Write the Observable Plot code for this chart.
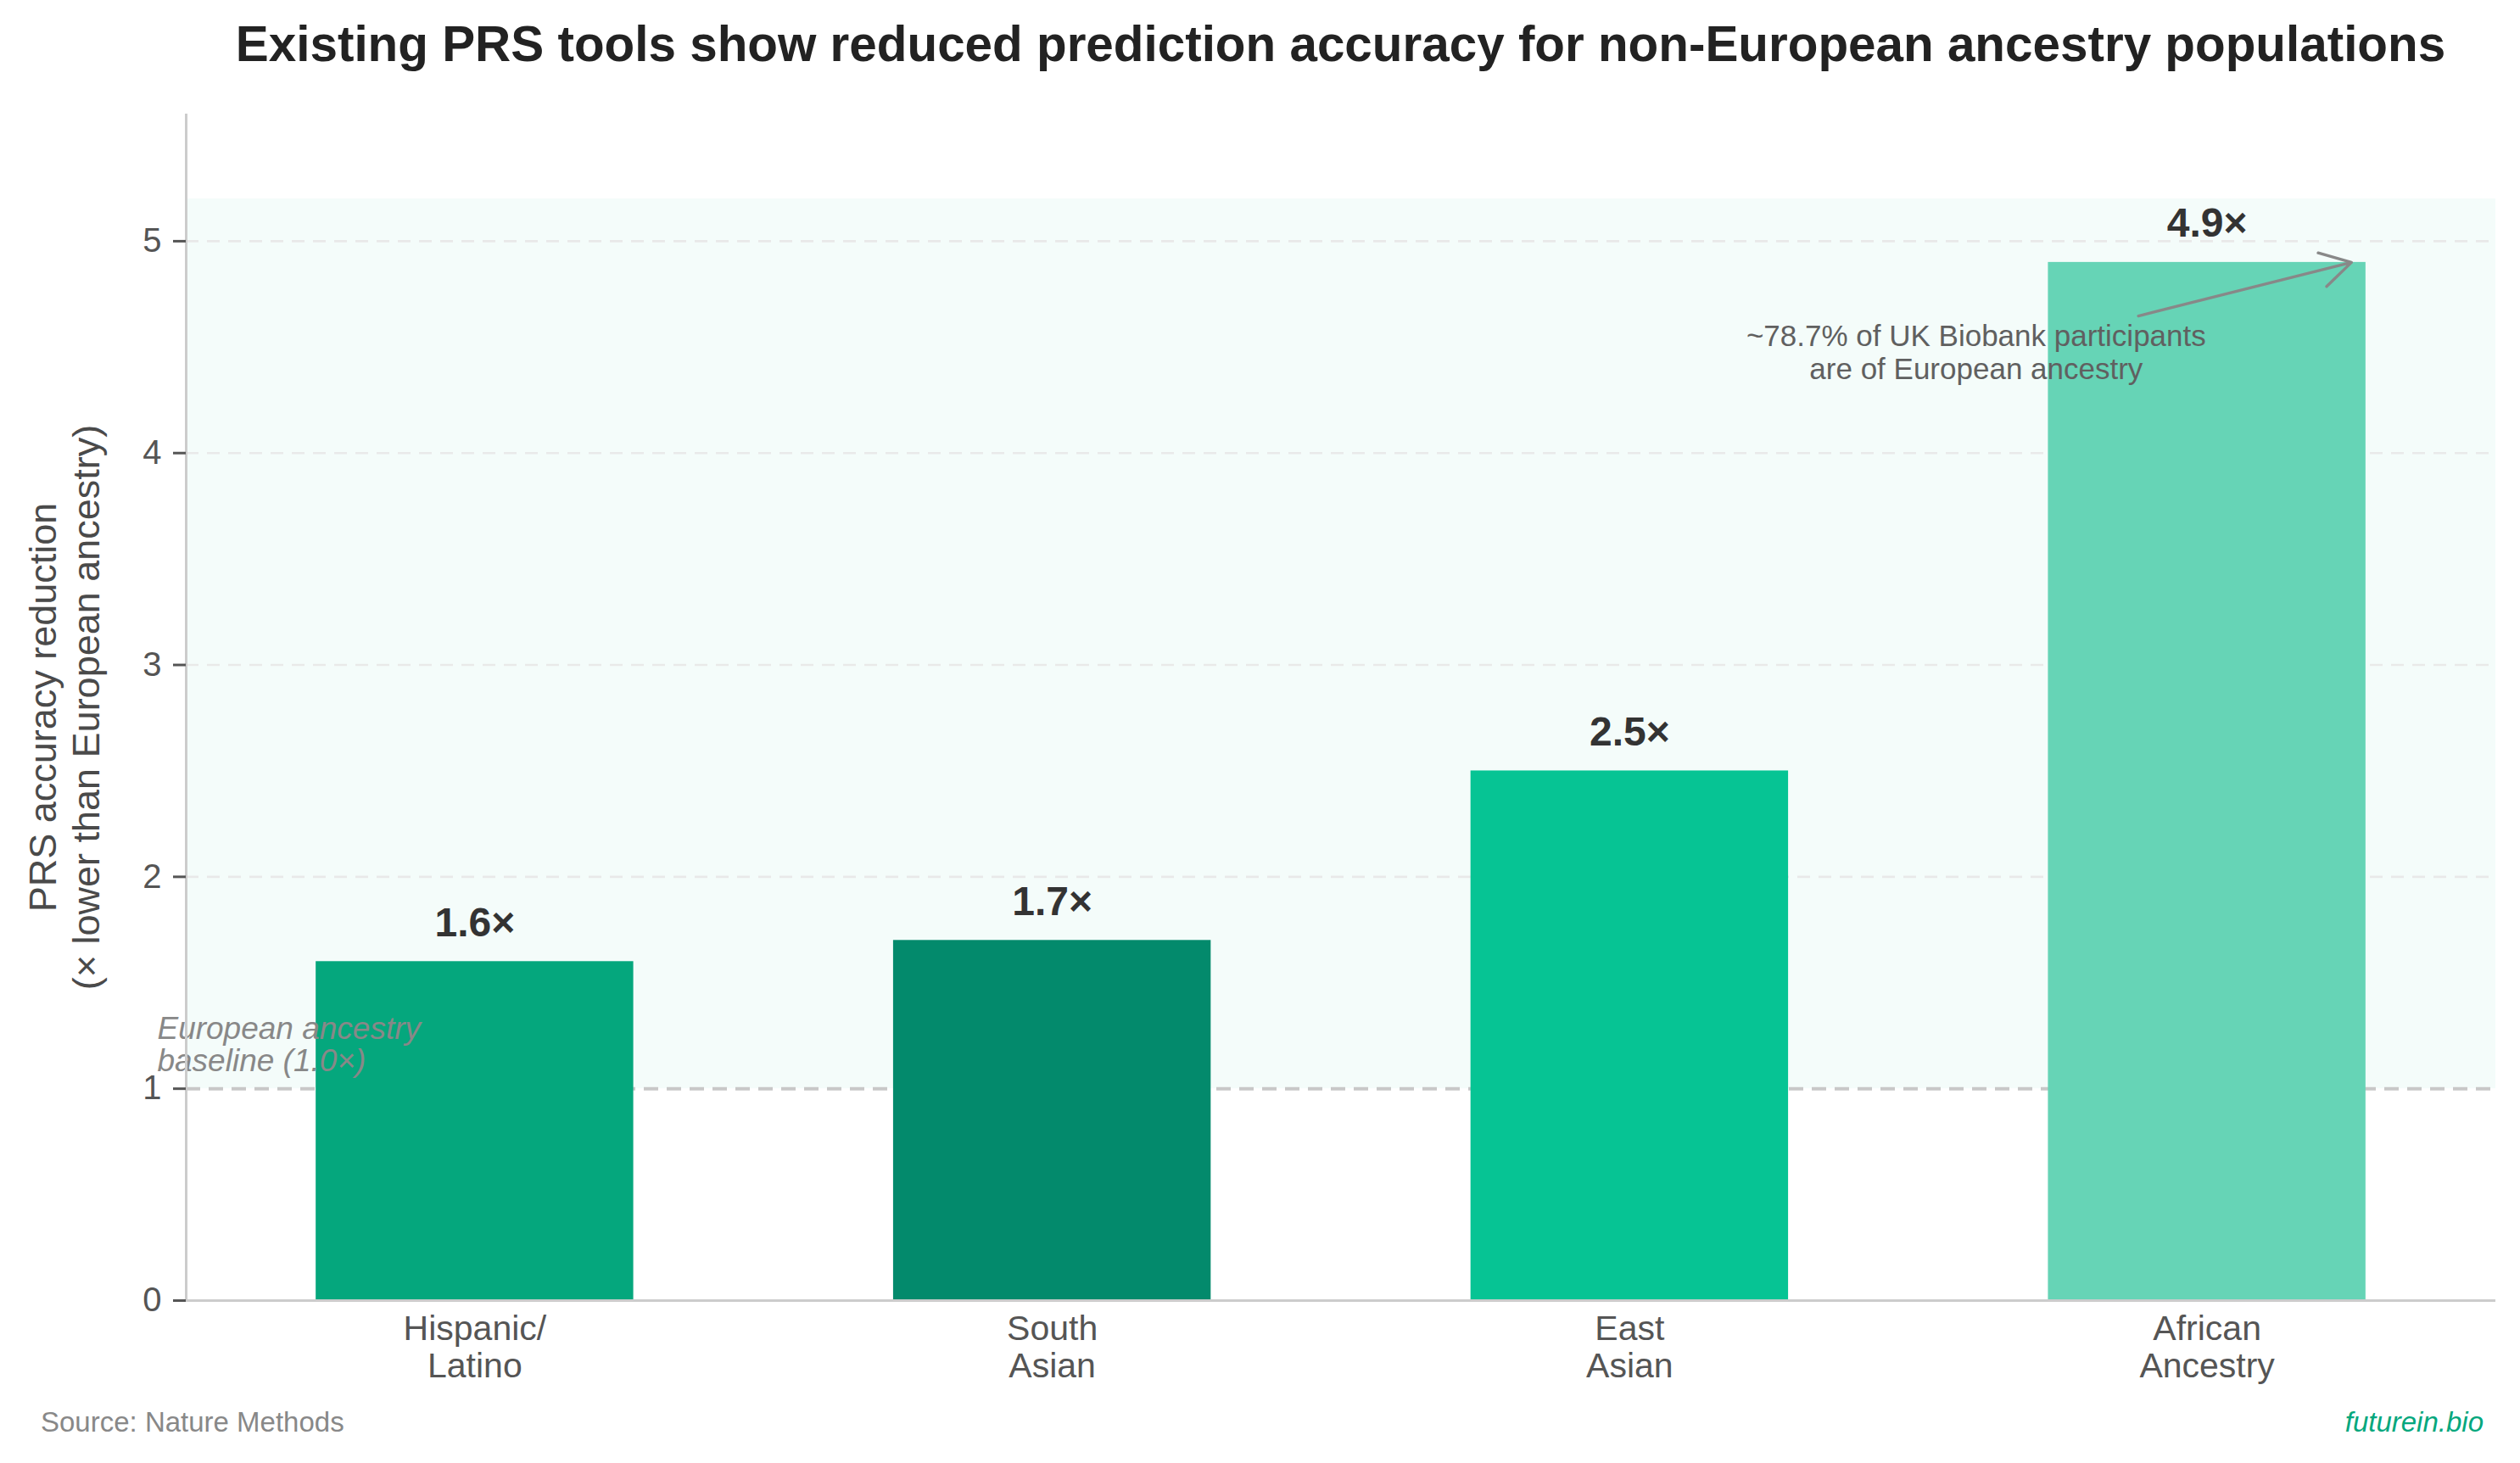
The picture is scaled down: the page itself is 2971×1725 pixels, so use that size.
<!DOCTYPE html>
<html>
<head>
<meta charset="utf-8">
<script src="https://cdn.jsdelivr.net/npm/d3@7"></script>
<script src="https://cdn.jsdelivr.net/npm/@observablehq/plot@0.6"></script>
<style>
  html, body { margin: 0; padding: 0; background: #ffffff; }
  #fig { position: relative; width: 2971px; height: 1725px; background: #ffffff; font-family: "Liberation Sans", Arial, sans-serif; }
  #title { position: absolute; left: 219px; width: 2723px; top: 23px; text-align: center; font-size: 58.4px; line-height: 58px; font-weight: bold; color: #222222; white-space: nowrap; }
  #chart { position: absolute; left: 0; top: 110px; }
  #source { position: absolute; left: 48px; top: 1660px; font-size: 33px; line-height: 33px; color: #888888; }
  #brand { position: absolute; right: 43px; top: 1660px; font-size: 33px; line-height: 33px; color: #05a77d; font-style: italic; }
</style>
</head>
<body>
<div id="fig">
  <div id="title">Existing PRS tools show reduced prediction accuracy for non-European ancestry populations</div>
  <div id="chart"></div>
  <div id="source">Source: Nature Methods</div>
  <div id="brand">futurein.bio</div>
</div>
<script>
// ---- data ----
const categories = ["Hispanic/\nLatino", "South\nAsian", "East\nAsian", "African\nAncestry"];
const values = [1.6, 1.7, 2.5, 4.9];
const valueLabels = ["1.6×", "1.7×", "2.5×", "4.9×"];
const barColors = ["#05a77d", "#038a6c", "#06c494", "#66d4b6"];
const yTicks = [0, 1, 2, 3, 4, 5];
const yDomain = [0, 5.6];
const xDomain = [-0.5, 3.5];
const baselineValue = [1.0];
const baselineLabel = ["European ancestry\nbaseline (1.0×)"];
const baselineLabelPos = [{x: -0.55, y: 1.082}];
const shadedBand = [{lo: 1.0, hi: 5.2}];
const yLabel = ["PRS accuracy reduction\n(× lower than European ancestry)"];
const noteText = ["~78.7% of UK Biobank participants\nare of European ancestry"];
const notePos = [{x: 2.6, y: 4.351}];
const arrowPos = [{x1: 2.881, y1: 4.647, x2: 3.25, y2: 4.9}];

const barWidth = 0.55;
const table = categories.map((c, i) => ({i, c, v: values[i], label: valueLabels[i], color: barColors[i]}));

const W = 2971, H = 1540;
const chart = Plot.plot({
  width: W,
  height: H,
  marginLeft: 219,
  marginRight: 29,
  marginTop: 24,
  marginBottom: 117,
  style: {fontFamily: "'Liberation Sans', Arial, sans-serif", background: "transparent", overflow: "visible"},
  x: {type: "linear", domain: xDomain, axis: null},
  y: {domain: yDomain, axis: null},
  marks: [
    // shaded band
    Plot.rect(shadedBand, {y1: "lo", y2: "hi", fill: "#06c494", fillOpacity: 0.045}),
    // grid lines
    Plot.ruleY(yTicks.filter(t => t > baselineValue[0]), {stroke: "#e9e9e9", strokeWidth: 2.6, strokeDasharray: "15,10"}),
    // baseline at 1.0
    Plot.ruleY(baselineValue, {stroke: "#c8c8c8", strokeWidth: 4, strokeDasharray: "17,10"}),
    // bars
    Plot.rect(table, {x1: d => d.i - barWidth / 2, x2: d => d.i + barWidth / 2, y1: 0, y2: "v", fill: d => d.color}),
    // baseline label
    Plot.text(baselineLabelPos, {x: "x", y: "y", text: () => baselineLabel[0], textAnchor: "start", lineAnchor: "bottom", fontSize: 37, lineHeight: 1.03, fontStyle: "italic", fill: "#888888"}),
    // spines
    Plot.ruleX([xDomain[0]], {stroke: "#cccccc", strokeWidth: 3}),
    Plot.ruleY([yDomain[0]], {stroke: "#cccccc", strokeWidth: 3}),
    // y axis
    Plot.axisY({ticks: yTicks, tickSize: 15, tickPadding: 14, fontSize: 40, color: "#555555", strokeWidth: 3, label: null, tickFormat: d => String(d)}),
    // x axis
    Plot.axisX({ticks: table.map(d => d.i), tickFormat: i => categories[i], tickSize: 0, tickPadding: 15, fontSize: 41, lineHeight: 1.07, fill: "#555555", label: null}),
    // value labels
    Plot.text(table, {x: "i", y: "v", text: "label", dy: -30, lineAnchor: "bottom", fontSize: 48, fontWeight: "bold", fill: "#333333"}),
    // annotation
    Plot.arrow(arrowPos, {x1: "x1", y1: "y1", x2: "x2", y2: "y2", stroke: "#888888", strokeWidth: 3.4, headLength: 18, headAngle: 60}),
    Plot.text(notePos, {x: "x", y: "y", text: () => noteText[0], textAnchor: "middle", lineAnchor: "bottom", fontSize: 35, lineHeight: 1.114, fill: "#606060"}),
    // y label
    Plot.text(yLabel, {frameAnchor: "left", text: d => d, rotate: -90, dx: -144.5, fontSize: 45, lineHeight: 1.13, fill: "#4a4a4a", textAnchor: "middle", lineAnchor: "middle"})
  ]
});
document.getElementById("chart").appendChild(chart);
</script>
</body>
</html>
